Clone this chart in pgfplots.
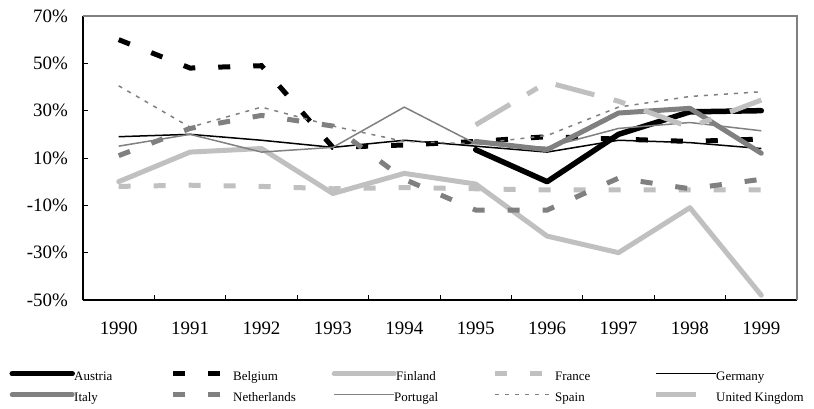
\documentclass[border=0pt]{standalone}
\usepackage{fontspec}
\setmainfont{Liberation Serif}
\usepackage{pgfplots}
\pgfplotsset{compat=1.18}
\definecolor{mgray}{HTML}{808080}
\definecolor{lgray}{HTML}{C0C0C0}
\begin{document}
\begin{tikzpicture}
\useasboundingbox (-83bp,-109bp) rectangle (731bp,300bp);
\begin{axis}[
  at={(0,0)}, anchor=south west, scale only axis,
  width=714bp, height=284bp,
  xmin=-0.5, xmax=9.5, ymin=-50, ymax=70,
  clip=false,
  axis x line*=bottom, axis y line*=left,
  axis line style={black, line width=1.5bp},
  tick align=inside,
  major tick length=5bp, minor tick length=5bp,
  xtick={0,...,9},
  xticklabels={1990,1991,1992,1993,1994,1995,1996,1997,1998,1999},
  major x tick style={draw=none},
  minor xtick={-0.5,0.5,...,9.5},
  minor x tick style={black, line width=1bp},
  ytick={-50,-30,-10,10,30,50,70},
  yticklabels={-50\%,-30\%,-10\%,10\%,30\%,50\%,70\%},
  major y tick style={black, line width=1bp},
  ticklabel style={font=\fontsize{19}{22}\selectfont, inner sep=0pt},
  yticklabel style={xshift=-15bp},
  xticklabel style={yshift=-22bp},
  no marks,
  legend columns=5,
  legend cell align=left,
  legend style={at={(-0.0994,-0.2482)}, anchor=north west, draw=none, fill=none,
    inner sep=0pt, column sep=0pt, row sep=8bp,
    font=\fontsize{13}{15}\selectfont,
    nodes={inner sep=0pt, text height=10bp, text depth=3bp}},
  legend image code/.code={\draw[#1, overlay] (0bp,3.5bp) -- (60bp,3.5bp);
    \path[draw=none, fill=none] (0bp,3bp) rectangle (60bp,4bp);},
]
\draw[mgray, line width=1.5bp] (rel axis cs:0,1) -- (rel axis cs:1,1) -- (rel axis cs:1,0);

\addplot[black, line width=5.5bp, line cap=round, line join=round]
  coordinates {(5,13.5) (6,0) (7,20) (8,29.5) (9,30)};
\addlegendentry{\makebox[101bp][l]{\hspace{2bp}Austria}}

\addplot[black, line width=5bp, dash pattern=on 12bp off 23bp]
  coordinates {(0,60) (1,48) (2,49) (3,14.5) (4,15.5) (5,17) (6,19) (7,18) (8,17) (9,18)};
\addlegendentry{\makebox[101bp][l]{Belgium}}

\addplot[lgray, line width=5bp, line cap=round, line join=round]
  coordinates {(0,0) (1,12.5) (2,14) (3,-5) (4,3.5) (5,-1) (6,-23) (7,-30) (8,-11) (9,-48)};
\addlegendentry{\makebox[101bp][l]{\hspace{2bp}Finland}}

\addplot[lgray, line width=5bp, dash pattern=on 12bp off 23bp]
  coordinates {(0,-2) (1,-1.5) (2,-2) (3,-3) (4,-2.5) (5,-3) (6,-3.5) (7,-3.5) (8,-3.5) (9,-3.5)};
\addlegendentry{\makebox[101bp][l]{France}}

\addplot[black, line width=1.5bp, line join=round]
  coordinates {(0,19) (1,20) (2,17.5) (3,14.5) (4,17.5) (5,15) (6,12.5) (7,17.5) (8,16.5) (9,14)};
\addlegendentry{\makebox[101bp][l]{Germany}}

\addplot[mgray, line width=5bp, line cap=round, line join=round]
  coordinates {(5,17) (6,13.5) (7,29) (8,31) (9,12)};
\addlegendentry{\makebox[101bp][l]{\hspace{2bp}Italy}}

\addplot[mgray, line width=5bp, dash pattern=on 12bp off 23bp]
  coordinates {(0,11) (1,22.5) (2,28) (3,23.5) (4,1) (5,-12) (6,-12) (7,1.5) (8,-3) (9,1)};
\addlegendentry{\makebox[101bp][l]{Netherlands}}

\addplot[mgray, line width=1.5bp, line join=round]
  coordinates {(0,15) (1,20) (2,12.5) (3,14.5) (4,31.5) (5,16) (6,14.5) (7,22.5) (8,25) (9,21.5)};
\addlegendentry{\makebox[101bp][l]{Portugal}}

\addplot[mgray, line width=1.5bp, dash pattern=on 4bp off 6bp]
  coordinates {(0,40.5) (1,23) (2,31.5) (3,23.5) (4,17) (5,16) (6,19.5) (7,31.5) (8,36) (9,38)};
\addlegendentry{\makebox[101bp][l]{Spain}}

\addplot[lgray, line width=5bp, dash pattern=on 40bp off 20bp on 12bp off 20bp]
  coordinates {(5,24) (6,42) (7,34) (8,23) (9,34.5)};
\addlegendentry{\makebox[101bp][l]{United Kingdom}}
\end{axis}
\end{tikzpicture}
\end{document}
